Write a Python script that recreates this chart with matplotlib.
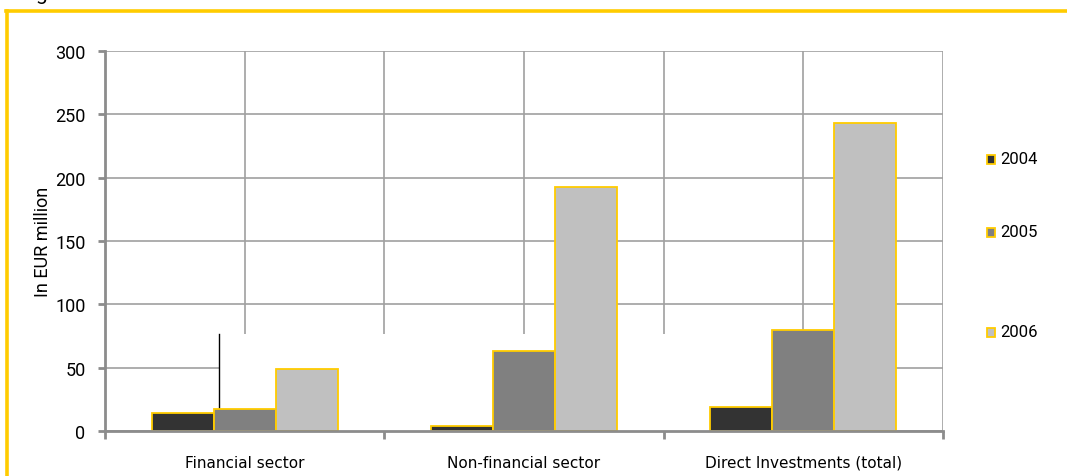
import numpy as np
import matplotlib
matplotlib.use('Agg')
import matplotlib.pyplot as plt
from matplotlib.patches import Rectangle
from matplotlib.lines import Line2D

categories = ['Financial sector', 'Non-financial sector', 'Direct Investments (total)']
years = ['2004', '2005', '2006']
values_2004 = [14, 4, 19]
values_2005 = [17, 63, 80]
values_2006 = [49, 193, 243]
series = [values_2004, values_2005, values_2006]
colors = ['#333333', '#808080', '#C0C0C0']
yticks = [0, 50, 100, 150, 200, 250, 300]

plt.rcParams['font.family'] = ['Roboto', 'DejaVu Sans']
yellow = '#FFCC00'

fig = plt.figure(figsize=(10.67, 4.77), dpi=100)
ax = fig.add_axes([0.0984, 0.0943, 0.7854, 0.7967])

x = np.arange(len(categories))
w = 0.222
for i, vals in enumerate(series):
    ax.bar(x + (i - 1) * w, vals, width=w, color=colors[i], edgecolor=yellow,
           linewidth=1.3, zorder=3)

# white patch covering part of the grid (as in the original)
ax.add_patch(Rectangle((-0.092, 0), 2.33, 76.5, facecolor='white', edgecolor='none', zorder=1))
ax.plot([-0.092, -0.092], [0, 76.5], color='black', lw=1.0, zorder=1.5)

ax.set_xlim(-0.5, 2.5)
ax.set_ylim(0, 300)
ax.set_yticks(yticks)
ax.tick_params(axis='y', labelsize=13, length=5, width=2, color='#8C8C8C', pad=9)

ax.set_xticks([-0.5, 0.5, 1.5, 2.5])
ax.set_xticklabels([])
ax.tick_params(axis='x', which='major', length=6, width=2, color='#8C8C8C', direction='out')
ax.set_xticks(x, minor=True)
ax.set_xticklabels(categories, minor=True, fontsize=11, family=['DejaVu Sans'])
ax.tick_params(axis='x', which='minor', length=0, pad=17)

for gx in np.arange(-0.5, 2.51, 0.5):
    ax.axvline(gx, color='#A0A0A0', lw=1.2, zorder=0.5)
for gy in yticks:
    ax.axhline(gy, color='#A0A0A0', lw=1.2, zorder=0.5)

for s in ['top', 'right']:
    ax.spines[s].set_visible(False)
for s in ['left', 'bottom']:
    ax.spines[s].set_color('#8C8C8C')
    ax.spines[s].set_linewidth(2)
    ax.spines[s].set_zorder(4)

ax.set_ylabel('In EUR million', fontsize=13, labelpad=2)

# legend entries placed like the original
leg_y = [160, 233, 333]
for yr, col, py in zip(years, colors, leg_y):
    fy = 1 - py / 477
    fig.add_artist(Rectangle((987 / 1067, fy - 4.5 / 477), 8 / 1067, 9 / 477,
                             transform=fig.transFigure, facecolor=col,
                             edgecolor=yellow, linewidth=1.3))
    fig.text(1000 / 1067, fy, yr, fontsize=12, va='center', ha='left')

# yellow frame on top and left
fig.add_artist(Line2D([6 / 1067, 1], [1 - 12 / 477, 1 - 12 / 477],
                      transform=fig.transFigure, color=yellow, lw=2.6))
fig.add_artist(Line2D([6.5 / 1067, 6.5 / 1067], [0, 1 - 12 / 477],
                      transform=fig.transFigure, color=yellow, lw=2.6))
fig.text(0.034, 1.0, 'g', fontsize=15, va='baseline', ha='left')

fig.savefig('out.png', dpi=100)
